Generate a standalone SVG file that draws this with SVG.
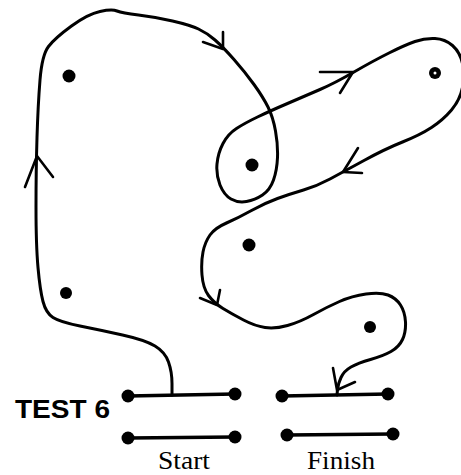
<svg xmlns="http://www.w3.org/2000/svg" width="461" height="475" viewBox="0 0 461 475">
<style>
.route{fill:none;stroke:#000;stroke-width:3;stroke-linecap:round;stroke-linejoin:round}
.head{fill:none;stroke:#000;stroke-width:2.6;stroke-linecap:round;stroke-linejoin:round}
.bar{stroke:#000;stroke-width:3.5;stroke-linecap:round}
.dot{fill:#000}
.lbl{font-family:"Liberation Serif","Times New Roman",serif;font-size:25px;fill:#000}
.ttl{font-family:"Liberation Sans",Arial,sans-serif;font-weight:bold;font-size:25px;fill:#000}
</style>
<rect width="461" height="475" fill="#fff"/>
<g id="connectors">
<path class="route" d="M172,395 L172,383.5 Q172,372 168.5,362 Q165,352 155,346 Q145,340 122.5,335 Q100,330 80,326 Q60,322 53,317.5 Q46,313 43,301.5 Q40,290 38,267.5 Q36,245 36,207.5 Q36,170 37,137.5 Q38,105 40,80 Q42,55 48.5,46.5 Q55,38 71.5,26 Q88,14 100,11.5 Q112,9 117,11 Q122,13 138.5,15 Q155,17 172.5,21 Q190,25 198.5,29 Q207,33 215,40 Q223,47 234,59.5 Q245,72 254,84.5 Q263,97 268,107 Q273,117 275.5,131 Q278,145 277.5,157.5 Q277,170 273.5,180 Q270,190 262.5,195 Q255,200 246.5,201.5 Q238,203 231,199 Q224,195 220,185 Q216,175 217,164 Q218,153 223,143.5 Q228,134 236.5,128.5 Q245,123 257.5,117 Q270,111 287.5,103.5 Q305,96 320,89.5 Q335,83 354,72 Q373,61 389,53 Q405,45 415,41.5 Q425,38 435,38.5 Q445,39 452.5,45.5 Q460,52 462.5,63.5 Q465,75 462.5,87.5 Q460,100 451.5,110 Q443,120 431.5,127.5 Q420,135 402.5,142 Q385,149 364,160.5 Q343,172 330,179 Q317,186 303.5,190 Q290,194 277.5,198.5 Q265,203 251.5,210.5 Q238,218 226.5,223 Q215,228 210,235 Q205,242 203,252 Q201,262 202,275 Q203,288 208.5,295.5 Q214,303 223,308.5 Q232,314 243.5,320 Q255,326 265,327.5 Q275,329 287.5,325.5 Q300,322 313.5,314.5 Q327,307 339.5,301.5 Q352,296 366,294 Q380,292 388,295 Q396,298 400.5,305 Q405,312 405.5,322 Q406,332 402.5,339.5 Q399,347 391,351.5 Q383,356 370.5,359.5 Q358,363 351,367 Q344,371 341,377.5 Q338,384 337.5,389.5 L337,395"/>
<path class="head" d="M25,187 L37,156 L53,177"/>
<path class="head" d="M203,42 L223,49 L223,32"/>
<path class="head" d="M320,72 L353,72 L340,93"/>
<path class="head" d="M358,148 L343,172 L362,173"/>
<path class="head" d="M200,298 L217,305 L220,290"/>
<path class="head" d="M333,368 L337,390 L355,382"/>
</g>
<g id="dot-1"><circle class="dot" cx="69" cy="76" r="6.5"/></g>
<g id="dot-2"><circle class="dot" cx="66" cy="293" r="6"/></g>
<g id="dot-3"><circle class="dot" cx="252" cy="165" r="6.5"/></g>
<g id="dot-4"><circle class="dot" cx="435" cy="73" r="6"/><circle cx="435" cy="73" r="1.5" fill="#fff"/></g>
<g id="dot-5"><circle class="dot" cx="249" cy="245" r="6.5"/></g>
<g id="dot-6"><circle class="dot" cx="370" cy="327" r="6"/></g>
<g id="start">
<line class="bar" x1="128" y1="396" x2="235" y2="394"/>
<circle class="dot" cx="128" cy="396" r="6.5"/><circle class="dot" cx="235" cy="394" r="6.5"/>
<line class="bar" x1="128" y1="438" x2="235" y2="437"/>
<circle class="dot" cx="128" cy="438" r="6.5"/><circle class="dot" cx="235" cy="437" r="6.5"/>
<text class="lbl" x="158" y="469" textLength="52" lengthAdjust="spacingAndGlyphs">Start</text>
</g>
<g id="finish">
<line class="bar" x1="282" y1="396" x2="388" y2="394"/>
<circle class="dot" cx="282" cy="396" r="6.5"/><circle class="dot" cx="388" cy="394" r="6.5"/>
<line class="bar" x1="287" y1="435" x2="393" y2="434"/>
<circle class="dot" cx="287" cy="435" r="6.5"/><circle class="dot" cx="393" cy="434" r="6.5"/>
<text class="lbl" x="307" y="469" textLength="68" lengthAdjust="spacingAndGlyphs">Finish</text>
</g>
<g id="title"><text class="ttl" x="15" y="418" textLength="95" lengthAdjust="spacingAndGlyphs">TEST 6</text></g>
</svg>
